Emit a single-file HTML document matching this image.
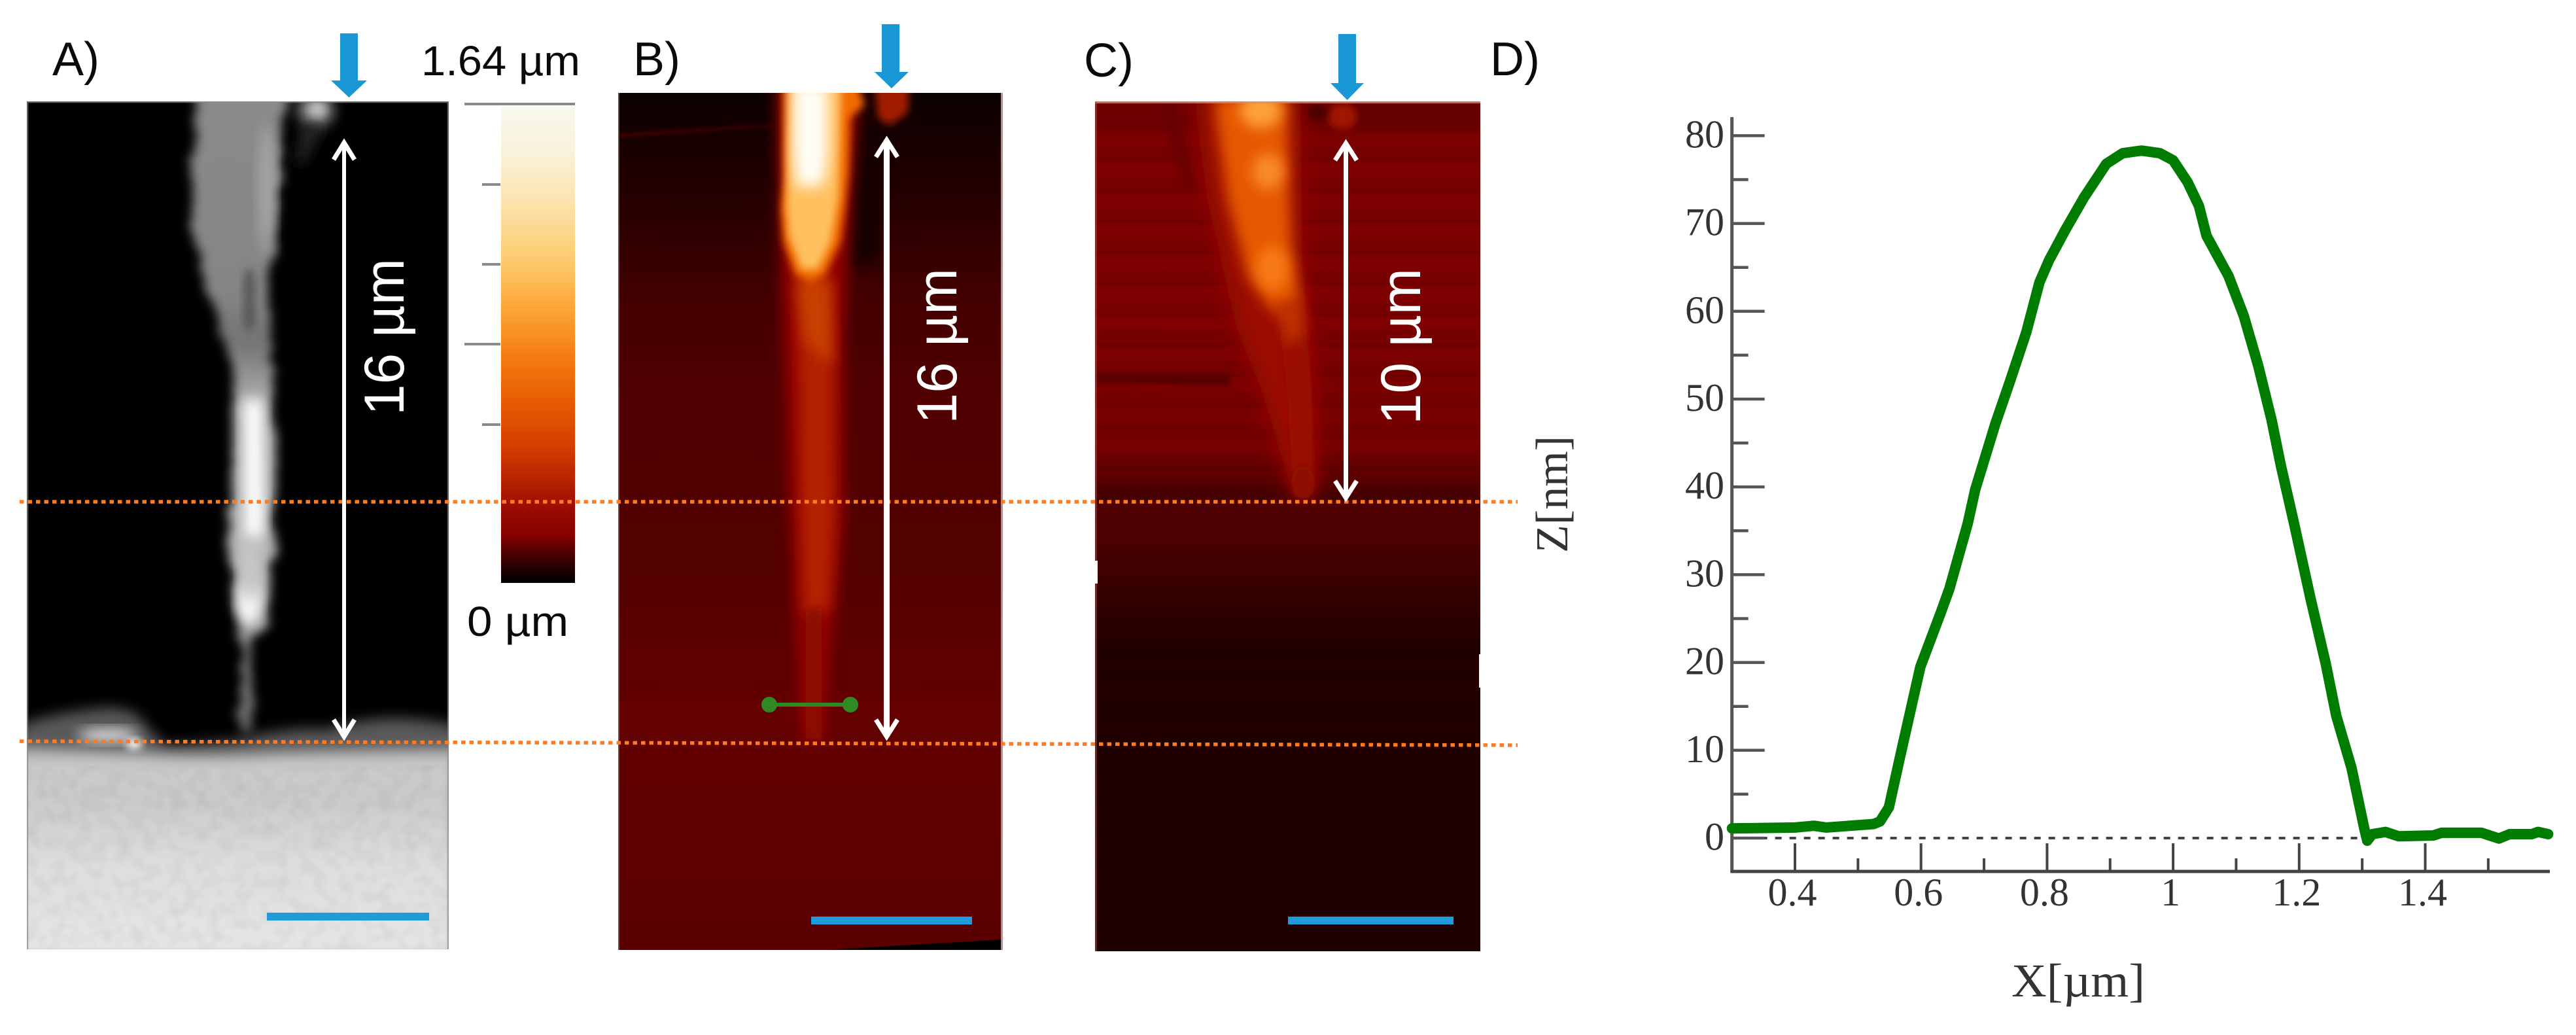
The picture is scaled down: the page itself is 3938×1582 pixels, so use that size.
<!DOCTYPE html>
<html lang="en">
<head>
<meta charset="utf-8">
<title>Fibre microscopy panels and height profile</title>
<style>
html,body{margin:0;padding:0;background:#fff;}
body{width:3938px;height:1582px;overflow:hidden;}
svg{display:block;}
.lab{font-family:"Liberation Sans",sans-serif;fill:#0a0a0a;}
.wt{font-family:"Liberation Sans",sans-serif;fill:#fff;}
.ser{font-family:"Liberation Serif",serif;fill:#333;}
</style>
</head>
<body>
<svg id="figure" xmlns="http://www.w3.org/2000/svg" width="3938" height="1582" viewBox="0 0 3938 1582">
<defs>
  <clipPath id="clipA"><rect x="41" y="155" width="645" height="1296"/></clipPath>
  <clipPath id="clipB"><rect x="945" y="142" width="588" height="1310"/></clipPath>
  <clipPath id="clipC"><rect x="1674" y="155" width="589" height="1299"/></clipPath>
  <filter id="b3" x="-30%" y="-30%" width="160%" height="160%"><feGaussianBlur stdDeviation="3"/></filter>
  <filter id="b6" x="-30%" y="-30%" width="160%" height="160%"><feGaussianBlur stdDeviation="6"/></filter>
  <filter id="b10" x="-40%" y="-40%" width="180%" height="180%"><feGaussianBlur stdDeviation="10"/></filter>
  <filter id="b16" x="-60%" y="-50%" width="220%" height="200%"><feGaussianBlur stdDeviation="16"/></filter>
  <filter id="rough" x="-30%" y="-10%" width="160%" height="120%">
    <feTurbulence type="fractalNoise" baseFrequency="0.035" numOctaves="2" seed="4" result="t"/>
    <feDisplacementMap in="SourceGraphic" in2="t" scale="26" xChannelSelector="R" yChannelSelector="G"/>
    <feGaussianBlur stdDeviation="8"/>
  </filter>
  <filter id="noise" x="0" y="0" width="100%" height="100%">
    <feTurbulence type="fractalNoise" baseFrequency="0.05" numOctaves="2" seed="7"/>
    <feColorMatrix type="matrix" values="0 0 0 0 0  0 0 0 0 0  0 0 0 0 0  1.6 0 0 0 -0.62"/>
    <feGaussianBlur stdDeviation="2"/>
  </filter>
  <linearGradient id="substrate" x1="0" y1="0" x2="0" y2="1">
    <stop offset="0" stop-color="#b0b0b0"/>
    <stop offset="0.1" stop-color="#cbcbcb"/>
    <stop offset="0.25" stop-color="#cacaca"/>
    <stop offset="0.55" stop-color="#dedede"/>
    <stop offset="1" stop-color="#e6e6e6"/>
  </linearGradient>
  <linearGradient id="fibreGrey" x1="0" y1="155" x2="0" y2="1120" gradientUnits="userSpaceOnUse">
    <stop offset="0" stop-color="#8a8a8a"/>
    <stop offset="0.3" stop-color="#858585"/>
    <stop offset="0.38" stop-color="#747474"/>
    <stop offset="0.43" stop-color="#909090"/>
    <stop offset="0.47" stop-color="#a8a8a8"/>
    <stop offset="0.8" stop-color="#b8b8b8"/>
    <stop offset="0.85" stop-color="#909090"/>
    <stop offset="1" stop-color="#666"/>
  </linearGradient>
  <linearGradient id="cbar" x1="0" y1="0" x2="0" y2="1">
    <stop offset="0" stop-color="#f8f8f0"/>
    <stop offset="0.09" stop-color="#f9f3dc"/>
    <stop offset="0.18" stop-color="#fce6b8"/>
    <stop offset="0.31" stop-color="#fdce75"/>
    <stop offset="0.41" stop-color="#feab3c"/>
    <stop offset="0.53" stop-color="#f47a10"/>
    <stop offset="0.62" stop-color="#e85c02"/>
    <stop offset="0.72" stop-color="#d33c00"/>
    <stop offset="0.85" stop-color="#980a00"/>
    <stop offset="0.90" stop-color="#860000"/>
    <stop offset="0.96" stop-color="#300000"/>
    <stop offset="1" stop-color="#000"/>
  </linearGradient>
  <linearGradient id="bgB" x1="0" y1="142" x2="0" y2="1452" gradientUnits="userSpaceOnUse">
    <stop offset="0" stop-color="#0a0000"/>
    <stop offset="0.06" stop-color="#180000"/>
    <stop offset="0.13" stop-color="#260000"/>
    <stop offset="0.24" stop-color="#440000"/>
    <stop offset="0.36" stop-color="#500000"/>
    <stop offset="0.55" stop-color="#520000"/>
    <stop offset="0.72" stop-color="#640000"/>
    <stop offset="0.85" stop-color="#600000"/>
    <stop offset="1" stop-color="#5a0000"/>
  </linearGradient>
  <linearGradient id="bgC" x1="0" y1="155" x2="0" y2="1454" gradientUnits="userSpaceOnUse">
    <stop offset="0" stop-color="#6c0000"/>
    <stop offset="0.05" stop-color="#7c0000"/>
    <stop offset="0.25" stop-color="#7e0000"/>
    <stop offset="0.40" stop-color="#780000"/>
    <stop offset="0.42" stop-color="#700000"/>
    <stop offset="0.46" stop-color="#4c0000"/>
    <stop offset="0.50" stop-color="#520000"/>
    <stop offset="0.56" stop-color="#3e0000"/>
    <stop offset="0.64" stop-color="#220000"/>
    <stop offset="1" stop-color="#200000"/>
  </linearGradient>
  <pattern id="stripes" x="0" y="155" width="589" height="47" patternUnits="userSpaceOnUse">
    <rect x="0" y="22" width="589" height="25" fill="#000" opacity="0.05"/>
    <rect x="0" y="40" width="589" height="5" fill="#000" opacity="0.05"/>
  </pattern>
</defs>

<rect x="0" y="0" width="3938" height="1582" fill="#fff"/>

<!-- Panel A -->
<g id="panel-a" clip-path="url(#clipA)">
  <rect x="41" y="155" width="645" height="1296" fill="#000"/>
  <path d="M30,1175 L30,1108 Q85,1090 130,1086 Q190,1074 215,1098 Q235,1125 255,1140 L360,1132 Q440,1110 500,1115 Q590,1084 700,1110 L700,1175 Z" fill="#585858" filter="url(#b10)"/>
  <ellipse cx="165" cy="1124" rx="46" ry="10" fill="#e8e8e8" filter="url(#b10)"/>
  <ellipse cx="205" cy="1138" rx="12" ry="9" fill="#fff" filter="url(#b6)"/>
  <path d="M296,130 L290,357 L332,485 L357,561 L354,800 L348,831 L363,964 L376,985 L368,1036 L368,1125 L386,1125 L386,985 L408,949 L418,831 L421,800 L415,561 L415,408 L427,306 L436,130 Z" fill="url(#fibreGrey)" filter="url(#rough)"/>
  <ellipse cx="408" cy="290" rx="12" ry="100" fill="#a8a8a8" filter="url(#b10)"/>
  <ellipse cx="381" cy="440" rx="10" ry="30" fill="#5c5c5c" filter="url(#b6)"/>
  <ellipse cx="381" cy="482" rx="10" ry="24" fill="#5a5a5a" filter="url(#b6)"/>
  <path d="M372,610 L402,610 L404,800 L398,825 L374,825 Z" fill="#fff" filter="url(#b10)"/>
  <ellipse cx="381" cy="923" rx="16" ry="32" fill="#fff" filter="url(#b10)"/>
  <ellipse cx="383" cy="870" rx="15" ry="50" fill="#c8c8c8" filter="url(#b10)"/>
  <ellipse cx="483" cy="168" rx="27" ry="26" fill="#909090" filter="url(#b10)"/>
  <ellipse cx="485" cy="168" rx="12" ry="12" fill="#bdbdbd" filter="url(#b6)"/>
  <path d="M462,190 L495,190 L465,250 L452,250 Z" fill="#262626" filter="url(#b10)"/>
  <path d="M20,1142 Q130,1146 220,1150 Q300,1158 420,1150 Q560,1146 700,1144 L700,1470 L20,1470 Z" fill="url(#substrate)" filter="url(#b10)"/>
  <rect x="41" y="1170" width="645" height="281" filter="url(#noise)" opacity="0.07"/>
  <rect x="42" y="156" width="643" height="1296" fill="none" stroke="#8a8a8a" stroke-width="2.5" stroke-opacity="0.7"/>
</g>
<rect x="408" y="1395" width="248" height="12" fill="#239bd8"/>

<!-- Colour scale -->
<g>
  <rect x="766" y="163" width="113" height="728" fill="url(#cbar)"/>
  <g stroke="#8a8a8a" stroke-width="4">
    <line x1="710" y1="159" x2="879" y2="159"/>
    <line x1="737" y1="282" x2="765" y2="282"/>
    <line x1="737" y1="404" x2="765" y2="404"/>
    <line x1="710" y1="526" x2="765" y2="526"/>
    <line x1="737" y1="649" x2="765" y2="649"/>
  </g>
  <text class="lab" x="644" y="115" font-size="64" textLength="243" lengthAdjust="spacingAndGlyphs">1.64 µm</text>
  <text class="lab" x="714" y="972" font-size="64" textLength="155" lengthAdjust="spacingAndGlyphs">0 µm</text>
</g>

<!-- Panel B -->
<g id="panel-b" clip-path="url(#clipB)">
  <rect x="945" y="142" width="588" height="1310" fill="url(#bgB)"/>
  <path d="M1295,130 L1345,130 L1345,400 L1295,410 Z" fill="#120000" filter="url(#b10)"/>
  <path d="M945,205 L1180,190 L1180,193 L945,210 Z" fill="#4a0000" filter="url(#b3)"/>
  <path d="M1186,130 L1310,130 L1312,170 L1302,320 L1290,520 L1290,800 L1275,950 L1258,1130 L1225,1130 L1215,950 L1204,700 L1194,420 Z" fill="#8e0600" filter="url(#b10)"/>
  <path d="M1218,420 L1272,420 L1274,600 L1275,800 L1268,930 L1240,950 L1228,930 L1224,760 L1222,600 Z" fill="#b42400" filter="url(#b10)"/>
  <path d="M1232,930 L1256,930 L1256,1130 L1232,1130 Z" fill="#8c0800" filter="url(#b6)"/>
  <path d="M1218,430 L1268,430 L1272,560 L1230,520 Z" fill="#c84000" filter="url(#b10)"/>
  <path d="M1198,130 L1310,130 L1322,160 L1300,180 L1298,260 L1292,320 L1285,370 L1262,420 L1240,432 L1215,420 L1198,370 L1194,320 L1198,280 Z" fill="#f26a06" filter="url(#b6)"/>
  <path d="M1208,130 L1286,130 L1282,300 L1270,370 L1250,412 L1225,412 L1206,360 L1202,310 Z" fill="#ffc05e" filter="url(#b6)"/>
  <path d="M1212,130 L1266,130 L1266,240 L1258,285 L1218,285 L1212,230 Z" fill="#fffdf6" filter="url(#b10)"/>
  <path d="M1337,130 L1390,130 L1388,172 L1360,192 L1342,180 Z" fill="#a21f00" filter="url(#b6)"/>
  <path d="M1263,1452 L1533,1436 L1533,1452 Z" fill="#000"/>
  <rect x="1530" y="142" width="3" height="1310" fill="#b09090"/>
  <rect x="945" y="142" width="2" height="1310" fill="#a07070" opacity="0.6"/>
</g>
<rect x="1240" y="1401" width="246" height="12" fill="#1f9bdc"/>
<line x1="1176" y1="1077" x2="1300" y2="1077" stroke="#2f8a24" stroke-width="6"/>
<circle cx="1176" cy="1077" r="12" fill="#2f8a24"/>
<circle cx="1300" cy="1077" r="12" fill="#2f8a24"/>

<!-- Panel C -->
<g id="panel-c" clip-path="url(#clipC)">
  <rect x="1674" y="155" width="589" height="1299" fill="url(#bgC)"/>
  <rect x="1674" y="155" width="589" height="1299" fill="url(#stripes)"/>
  <path d="M1770,150 L1795,150 L1830,290 L1815,290 Z" fill="#680000" filter="url(#b6)"/>
  <path d="M1674,570 L1880,570 L1880,590 L1674,585 Z" fill="#5a0000" filter="url(#b3)"/>
  <path d="M2070,150 L2263,150 L2263,195 L2070,195 Z" fill="#640000" filter="url(#b6)"/>
  <path d="M1826,150 L1988,150 L1990,400 L2002,520 L2012,740 L1975,750 L1930,600 L1890,500 L1845,300 Z" fill="#9c0c00" filter="url(#b16)"/>
  <path d="M1950,440 L1992,440 L2005,600 L2008,760 L1978,760 L1968,600 Z" fill="#9a0a00" filter="url(#b10)"/>
  <path d="M1856,150 L1968,150 L1970,290 L1974,380 L1986,455 L1962,478 L1940,470 L1907,420 L1876,300 Z" fill="#e65800" filter="url(#b10)"/>
  <path d="M1945,460 L1990,460 L1992,510 L1970,530 Z" fill="#c03000" filter="url(#b10)"/>
  <ellipse cx="1927" cy="168" rx="32" ry="28" fill="#ffa038" filter="url(#b10)"/>
  <ellipse cx="1938" cy="262" rx="24" ry="28" fill="#f98a2a" filter="url(#b10)"/>
  <ellipse cx="1945" cy="410" rx="24" ry="34" fill="#f87a16" filter="url(#b10)"/>
  <ellipse cx="2052" cy="178" rx="22" ry="20" fill="#a01200" filter="url(#b6)"/>
  <ellipse cx="2014" cy="171" rx="16" ry="13" fill="#480000" filter="url(#b6)"/>
  <ellipse cx="1992" cy="738" rx="18" ry="25" fill="#8c0a00" filter="url(#b6)"/>
  <rect x="1674" y="155" width="589" height="3" fill="#d89070" opacity="0.8"/>
  <rect x="1674" y="155" width="3" height="1299" fill="#a05050" opacity="0.5"/>
  <rect x="1674" y="857" width="4" height="35" fill="#fff"/>
  <rect x="2261" y="1000" width="3" height="51" fill="#fff"/>
</g>
<rect x="1969" y="1401" width="253" height="12" fill="#1f9bdc"/>

<!-- Dotted guides -->
<line x1="30" y1="767" x2="2320" y2="767" stroke="#ff7a20" stroke-width="5.5" stroke-dasharray="6.5 6"/>
<line x1="30" y1="1133" x2="2320" y2="1139" stroke="#ff7a20" stroke-width="5.5" stroke-dasharray="6.5 6"/>

<!-- White double arrows -->
<g fill="none" stroke="#fff" stroke-linejoin="miter">
  <line x1="526" y1="218" x2="526" y2="1126" stroke-width="6"/>
  <path d="M510,244 L526,218 L542,244" stroke-width="7"/>
  <path d="M510,1100 L526,1126 L542,1100" stroke-width="7"/>
</g>
<g fill="none" stroke="#fff">
  <line x1="1355.5" y1="214" x2="1355.5" y2="1126" stroke-width="9"/>
  <path d="M1339,240 L1355.5,214 L1372,240" stroke-width="7"/>
  <path d="M1339,1100 L1355.5,1126 L1372,1100" stroke-width="7"/>
</g>
<g fill="none" stroke="#fff">
  <line x1="2057.5" y1="219" x2="2057.5" y2="761" stroke-width="7"/>
  <path d="M2041,245 L2057.5,219 L2074,245" stroke-width="7"/>
  <path d="M2041,735 L2057.5,761 L2074,735" stroke-width="7"/>
</g>

<!-- Rotated length labels -->
<text class="wt" transform="translate(617,635) rotate(-90)" font-size="86" textLength="240" lengthAdjust="spacingAndGlyphs">16 µm</text>
<text class="wt" transform="translate(1462,648) rotate(-90)" font-size="86" textLength="238" lengthAdjust="spacingAndGlyphs">16 µm</text>
<text class="wt" transform="translate(2171,649) rotate(-90)" font-size="86" textLength="239" lengthAdjust="spacingAndGlyphs">10 µm</text>

<!-- Blue arrows -->
<polygon points="520,51 547,51 547,123 561,123 533.5,149 506,123 520,123" fill="#1a98d5"/>
<polygon points="1348,37 1375,37 1375,110 1389,110 1363,135 1337,110 1348,110" fill="#1a98d5"/>
<polygon points="2046,52 2073,52 2073,127 2085,127 2059.5,153 2034,127 2046,127" fill="#1a98d5"/>

<!-- Panel letters -->
<text class="lab" x="80" y="115" font-size="72">A)</text>
<text class="lab" x="968" y="115" font-size="72">B)</text>
<text class="lab" x="1657" y="117" font-size="72">C)</text>
<text class="lab" x="2278" y="115" font-size="72">D)</text>

<!-- Chart D, drawn by script -->
<g id="chart-d"></g>
</svg>

<script>
// Height profile: lateral position in micrometres, height in nanometres
const profileX = [0.3, 0.4, 0.43, 0.45, 0.525, 0.535, 0.549, 0.566, 0.599, 0.632, 0.645, 0.674, 0.686, 0.718, 0.741, 0.767, 0.788, 0.803, 0.83, 0.859, 0.894, 0.92, 0.95, 0.979, 1.0, 1.023, 1.041, 1.053, 1.088, 1.112, 1.135, 1.156, 1.171, 1.192, 1.218, 1.242, 1.259, 1.283, 1.303, 1.308, 1.316, 1.337, 1.358, 1.413, 1.426, 1.489, 1.517, 1.534, 1.569, 1.579, 1.595];
const profileZ = [1.1, 1.2, 1.4, 1.2, 1.6, 1.9, 3.5, 9, 19.5, 25.8, 28.4, 35.8, 39.7, 47.2, 52, 57.6, 63.3, 65.8, 69.4, 73, 76.8, 78, 78.3, 78, 77.2, 74.7, 72, 68.6, 64, 59.5, 53.8, 47.7, 42.4, 35.8, 27.3, 19.9, 13.9, 8, 1.2, -0.3, 0.45, 0.7, 0.2, 0.3, 0.6, 0.6, -0.05, 0.45, 0.45, 0.7, 0.45];
const zMajorTicks = [0, 10, 20, 30, 40, 50, 60, 70, 80];
const zMinorTicks = [5, 15, 25, 35, 45, 55, 65, 75];
const xMajorTicks = [0.4, 0.6, 0.8, 1, 1.2, 1.4];
const xMinorTicks = [0.5, 0.7, 0.9, 1.1, 1.3, 1.5];
const xTickLabels = ['0.4', '0.6', '0.8', '1', '1.2', '1.4'];
const zTickLabels = ['0', '10', '20', '30', '40', '50', '60', '70', '80'];

const SVGNS = 'http://www.w3.org/2000/svg';
const chart = document.getElementById('chart-d');

// Axis functions mapping data values to page pixels
function xPos(v) { return 2744 + (v - 0.4) * 963.5; }
function zPos(v) { return 1281 - v * 13.42; }

function make(tag, attrs) {
  const el = document.createElementNS(SVGNS, tag);
  Object.keys(attrs).forEach(function (k) { el.setAttribute(k, attrs[k]); });
  chart.appendChild(el);
  return el;
}

const axisY = make('line', { x1: xPos(0.3), y1: 179, x2: xPos(0.3), y2: 1334, stroke: '#555', 'stroke-width': 5 });



const axisX = make('line', { x1: xPos(0.3) - 2, y1: 1332, x2: 3898, y2: 1332, stroke: '#444', 'stroke-width': 5 });



const zeroLine = make('line', { x1: xPos(0.3), y1: zPos(0), x2: xPos(1.31), y2: zPos(0), stroke: '#444', 'stroke-width': 4, 'stroke-dasharray': '10 12' });



zMajorTicks.forEach(function (v, i) {
  const tick = make('line', { x1: xPos(0.3), y1: zPos(v), x2: xPos(0.3) + 50, y2: zPos(v), stroke: '#555', 'stroke-width': 4.5 });
  
  
  const label = make('text', { x: 2636, y: zPos(v) + 18, 'font-size': 60, 'text-anchor': 'end', class: 'ser' });
  label.textContent = zTickLabels[i];
  
  
});

zMinorTicks.forEach(function (v) {
  const tick = make('line', { x1: xPos(0.3), y1: zPos(v), x2: xPos(0.3) + 25, y2: zPos(v), stroke: '#555', 'stroke-width': 4.5 });
  
  
});

xMajorTicks.forEach(function (v, i) {
  const tick = make('line', { x1: xPos(v), y1: 1289, x2: xPos(v), y2: 1332, stroke: '#444', 'stroke-width': 4 });
  
  
  const label = make('text', { x: xPos(v) - 4, y: 1384, 'font-size': 60, 'text-anchor': 'middle', class: 'ser' });
  label.textContent = xTickLabels[i];
  
  
});

xMinorTicks.forEach(function (v) {
  const tick = make('line', { x1: xPos(v), y1: 1312, x2: xPos(v), y2: 1332, stroke: '#444', 'stroke-width': 4 });
  
  
});

const profileLine = make('path', {
  d: profileX.map(function (x, i) { return (i ? 'L' : 'M') + xPos(x).toFixed(1) + ',' + zPos(profileZ[i]).toFixed(1); }).join(' '),
  fill: 'none', stroke: '#007c00', 'stroke-width': 16, 'stroke-linejoin': 'round', 'stroke-linecap': 'round'
});



const xTitle = make('text', { x: 3075, y: 1523, 'font-size': 72, class: 'ser', textLength: 204, lengthAdjust: 'spacingAndGlyphs' });
xTitle.textContent = 'X[µm]';



const zTitle = make('text', { transform: 'translate(2396,845) rotate(-90)', 'font-size': 70, class: 'ser', textLength: 179, lengthAdjust: 'spacingAndGlyphs' });
zTitle.textContent = 'Z[nm]';


</script>
</body>
</html>
